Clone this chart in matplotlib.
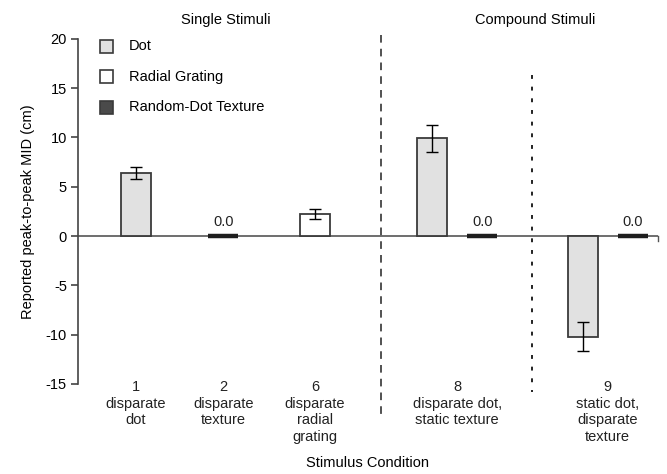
import numpy as np
import matplotlib.pyplot as plt
from matplotlib.patches import Rectangle

plt.rcParams['font.family'] = ['Liberation Sans', 'DejaVu Sans']
plt.rcParams['axes.unicode_minus'] = False

# Data
conditions = ['1\ndisparate\ndot', '2\ndisparate\ntexture', '6\ndisparate\nradial\ngrating',
              '8\ndisparate dot,\nstatic texture', '9\nstatic dot,\ndisparate\ntexture']
# one entry per bar: condition index, stimulus type, value, error
bar_cond = [0, 1, 2, 3, 3, 4, 4]
bar_type = ['Dot', 'Random-Dot Texture', 'Radial Grating', 'Dot', 'Random-Dot Texture',
            'Dot', 'Random-Dot Texture']
bar_vals = [6.4, 0.0, 2.2, 9.9, 0.0, -10.2, 0.0]
bar_errs = [0.65, 0.0, 0.5, 1.4, 0.0, 1.5, 0.0]

legend_labels = ['Dot', 'Radial Grating', 'Random-Dot Texture']
fills = {'Dot': '#e1e1e1', 'Radial Grating': '#ffffff', 'Random-Dot Texture': '#4a4a4a'}

# layout
cond_x = np.array([0.0, 0.97, 1.99, 3.57, 5.24])
pair_off = 0.278
width = 0.333

fig = plt.figure(figsize=(6.67, 4.74), dpi=100)
ax = fig.add_axes([0.117, 0.19, 0.8695, 0.728])

edge = '#3a3a3a'
count = {}
for c in bar_cond:
    count[c] = count.get(c, 0) + 1
seen = {}
for c, t, v, e in zip(bar_cond, bar_type, bar_vals, bar_errs):
    k = seen.get(c, 0)
    seen[c] = k + 1
    x = cond_x[c]
    if count[c] == 2:
        x += -pair_off if k == 0 else pair_off
    if v == 0:
        # zero-height bar shows up as a thick dark line
        ax.bar(x, 0.0, width, bottom=0, color=fills[t], edgecolor='#1e1e1e', linewidth=3.2, zorder=3)
        ax.text(x, v + 0.75, '0.0', ha='center', va='bottom', fontsize=10.5, color='#222222')
    else:
        ax.bar(x, v, width, color=fills[t], edgecolor=edge, linewidth=1.3, zorder=2)
        ax.errorbar(x, v, yerr=e, color='black', capsize=4, elinewidth=1, capthick=1, zorder=4)

# zero line
ax.axhline(0, color='#555555', linewidth=1.2, zorder=1)
ax.plot([5.8, 5.8], [0, -0.5], color='#555555', linewidth=1, clip_on=False)

# dividers
ax.plot([2.72, 2.72], [20.4, -18.7], color='#222222', linestyle=(0, (5, 4)), linewidth=1.1, clip_on=False)
ax.plot([4.4, 4.4], [16.3, -15.8], color='#222222', linestyle=(0, (2, 4)), linewidth=1.4, clip_on=False)

ax.set_xlim(-0.644, 5.8)
ax.set_ylim(-15, 20)
ax.set_yticks(np.arange(-15, 21, 5))
ax.tick_params(axis='y', direction='out', length=5, width=1.2, color='#444444', labelsize=10.5, pad=3)
ax.set_xticks(cond_x)
ax.set_xticklabels(conditions, fontsize=10.5, linespacing=1.25, color='#222222')
ax.tick_params(axis='x', length=0, pad=-3)
for s in ['top', 'right', 'bottom']:
    ax.spines[s].set_visible(False)
ax.spines['left'].set_color('#444444')
ax.spines['left'].set_linewidth(1.2)

ax.set_ylabel('Reported peak-to-peak MID (cm)', fontsize=10.5, labelpad=8)
fig.text(367 / 667, 1 - 463 / 474, 'Stimulus Condition', ha='center', va='center', fontsize=10.5)
ax.text(1.0, 21.9, 'Single Stimuli', ha='center', va='center', fontsize=10.5)
ax.text(4.43, 21.9, 'Compound Stimuli', ha='center', va='center', fontsize=10.5)

# legend drawn by hand as squares
for i, lab in enumerate(legend_labels):
    yc = 1 - (46 + 30.5 * i) / 474
    fig.patches.append(Rectangle((100 / 667, yc - 6.5 / 474), 13 / 667, 13 / 474,
                                 transform=fig.transFigure, facecolor=fills[lab],
                                 edgecolor=edge, linewidth=1.2))
    fig.text(129 / 667, yc, lab, ha='left', va='center', fontsize=10.5)

fig.savefig('out.png', dpi=100)
